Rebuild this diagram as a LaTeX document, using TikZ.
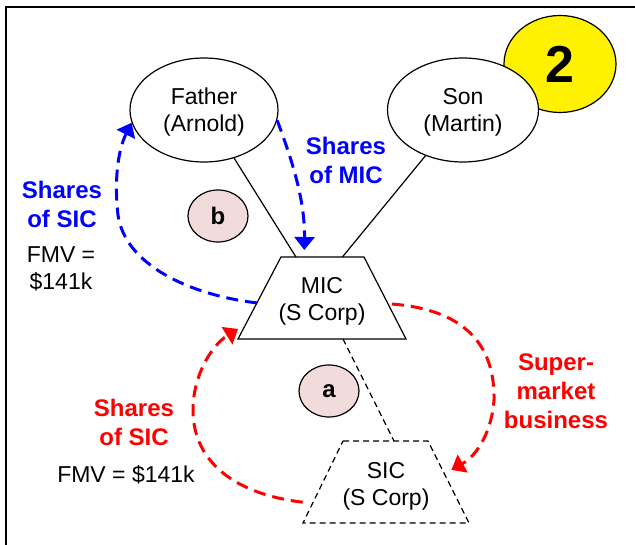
\documentclass[tikz,border=0pt]{standalone}
\usepackage{fontspec}
\setmainfont{Liberation Sans}
\usetikzlibrary{calc, shapes.geometric, arrows.meta}
\definecolor{shareblue}{RGB}{0,0,255}
\definecolor{sharered}{RGB}{255,0,0}
\definecolor{steppink}{RGB}{242,220,219}

\begin{document}
\begin{tikzpicture}[x=1pt, y=-1pt,
  person/.style={ellipse, draw, line width=1.2pt, fill=white, minimum width=148pt,
    minimum height=104pt, inner sep=0pt, align=center, text depth=0pt,
    font=\fontsize{23}{27}\selectfont},
  corptext/.style={align=center, inner sep=0pt, text depth=0pt, font=\fontsize{23}{27}\selectfont},
  stepmark/.style={ellipse, draw, line width=1.2pt, fill=steppink, minimum width=60pt,
    minimum height=52pt, inner sep=0pt, font=\fontsize{24}{29}\selectfont\bfseries},
  flow/.style={line width=3pt, dash pattern=on 12pt off 7pt, -{Triangle[length=13pt,width=20pt]}},
  flowtext/.style={align=center, font=\fontsize{24}{29}\selectfont\bfseries},
  fmvtext/.style={align=center, font=\fontsize{23}{27}\selectfont}]
\useasboundingbox (0,0) rectangle (635,545);
% Frame
\draw[line width=2.5pt] (6,545) -- (6,7) -- (635,7);
% Owners
\node[ellipse, draw, line width=1.2pt, fill=yellow, minimum width=112pt, minimum height=97pt,
  inner sep=0pt, font=\fontsize{52}{60}\selectfont\bfseries] (stage) at (560,64) {2};
\node[person] (Father) at (204,110) {Father\\(Arnold)};
\node[person, minimum width=151pt] (Son) at (463,110) {Son\\(Martin)};
% Corporations
\coordinate (micTL) at (281,257);
\coordinate (micTR) at (364,257);
\coordinate (micBR) at (406,339);
\coordinate (micBL) at (238,339);
\coordinate (sicTL) at (343,441);
\coordinate (sicTR) at (428,441);
\coordinate (sicBR) at (469,523);
\coordinate (sicBL) at (303,523);
\draw[line width=1.2pt, fill=white] (micTL) -- (micTR) -- (micBR) -- (micBL) -- cycle;
\draw[line width=1.2pt, dash pattern=on 6pt off 4pt] (sicTL) -- (sicTR) -- (sicBR) -- (sicBL) -- cycle;
\node[corptext] (MIC) at (322,299) {MIC\\(S Corp)};
\node[corptext] (SIC) at (386,484) {SIC\\(S Corp)};
\node[stepmark] (stepb) at (218,216) {b};
\node[stepmark] (stepa) at (329,391) {a};
% Ownership lines
\draw[line width=1.2pt] (Father) -- ($(micTL)!.18!(micTR)$);
\draw[line width=1.2pt] (Son) -- ($(micTL)!.74!(micTR)$);
\draw[line width=1.2pt, dash pattern=on 6pt off 4pt] ($(micBL)!.625!(micBR)$) -- ($(sicTL)!.6!(sicTR)$);
% Step b
\draw[flow, shareblue, shorten >=7pt] (Father.352) .. controls (292,160) and (305,200) ..
  ($(micTL)!.28!(micTR)$);
\draw[flow, shareblue] ($(micTL)!.56!(micBL)$)
  .. controls (190,295) and (125,265) .. (118,215)
  .. controls (114,180) and (118,150) .. (Father.190);
\node[flowtext, text=shareblue] (micShares) at (346,160) {Shares\\of MIC};
\node[flowtext, text=shareblue] (sicSharesB) at (62,204) {Shares\\of SIC};
\node[fmvtext] (fmvB) at (61,269) {FMV =\\\$141k};
% Step a
\draw[flow, sharered, shorten <=4pt, shorten >=8pt] ($(micTR)!.57!(micBR)$)
  .. controls (470,310) and (495,350) .. (494,400)
  .. controls (492,430) and (478,455) .. ($(sicTR)!.4!(sicBR)$);
\draw[flow, sharered, shorten <=10pt, shorten >=9pt] ($(sicTL)!.76!(sicBL)$)
  .. controls (240,495) and (193,465) .. (193,410)
  .. controls (193,375) and (212,345) .. ($(micTL)!.82!(micBL)$);
\node[flowtext, text=sharered] (sicSharesA) at (134,422) {Shares\\of SIC};
\node[fmvtext] (fmvA) at (126,475) {FMV = \$141k};
\node[flowtext, text=sharered] (business) at (556,391) {Super-\\market\\business};
\end{tikzpicture}
\end{document}
